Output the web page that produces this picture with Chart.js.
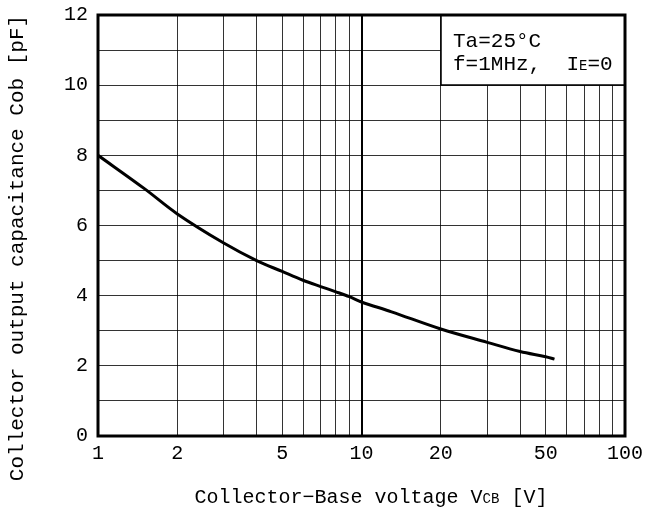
<!DOCTYPE html>
<html>
<head>
<meta charset="utf-8">
<script src="https://cdn.jsdelivr.net/npm/chart.js@4"></script>
<style>
  html, body { margin: 0; padding: 0; background: #fff; }
  #wrap { width: 651px; height: 511px; position: relative; }
</style>
</head>
<body>
<div id="wrap"><canvas id="cobChart"></canvas></div>
<script>
  // data
  const vcb = [1, 1.5, 2, 3, 4, 5, 6, 7, 8, 9, 10, 13, 20, 30, 40, 50, 54];
  const cob = [8.0, 7.05, 6.33, 5.5, 5.0, 4.69, 4.44, 4.26, 4.11, 3.97, 3.82, 3.54, 3.05, 2.67, 2.41, 2.26, 2.19];

  // grid / tick layout
  const xGridValues = [1, 2, 3, 4, 5, 6, 7, 8, 9, 10, 20, 30, 40, 50, 60, 70, 80, 90, 100];
  const xTickLabels = [1, 2, 5, 10, 20, 50, 100];
  const yTickLabels = [0, 2, 4, 6, 8, 10, 12];

  const FONT = "'Liberation Mono', 'DejaVu Sans Mono', monospace";

  // draws frame, note box and axis titles
  const decorPlugin = {
    id: 'decor',
    afterDraw(chart){
      const {ctx, chartArea: a, scales} = chart;
      const xs = scales.x, ys = scales.y;
      ctx.save();

      // thicker line at 10 V
      const x10 = Math.round(xs.getPixelForValue(10));
      ctx.strokeStyle = '#000';
      ctx.lineWidth = 2;
      ctx.beginPath();
      ctx.moveTo(x10, a.top);
      ctx.lineTo(x10, a.bottom);
      ctx.stroke();

      // note box (20..100 V, 10..12 pF)
      const bx = Math.round(xs.getPixelForValue(20));
      const by = Math.round(ys.getPixelForValue(10));
      ctx.fillStyle = '#fff';
      ctx.fillRect(bx, a.top, a.right - bx, by - a.top);
      ctx.lineWidth = 1.5;
      ctx.strokeRect(bx, a.top, a.right - bx, by - a.top);

      ctx.fillStyle = '#000';
      ctx.textBaseline = 'alphabetic';
      ctx.textAlign = 'left';
      ctx.font = `21px ${FONT}`;
      ctx.fillText('Ta=25°C', bx + 12, a.top + 32);
      let tx = bx + 12;
      const ty = a.top + 55;
      const p1 = 'f=1MHz,  I';
      ctx.fillText(p1, tx, ty);
      tx += ctx.measureText(p1).width;
      ctx.font = `14px ${FONT}`;
      ctx.fillText('E', tx, ty);
      tx += ctx.measureText('E').width;
      ctx.font = `21px ${FONT}`;
      ctx.fillText('=0', tx, ty);

      // frame
      ctx.lineWidth = 3;
      ctx.strokeRect(a.left, a.top, a.right - a.left, a.bottom - a.top);

      // x title with small "CB"
      const s1 = 'Collector−Base voltage V', s2 = 'CB', s3 = ' [V]';
      ctx.font = `20px ${FONT}`;
      const w1 = ctx.measureText(s1).width, w3 = ctx.measureText(s3).width;
      ctx.font = `14px ${FONT}`;
      const w2 = ctx.measureText(s2).width;
      let x = 371 - (w1 + w2 + w3) / 2;
      const y = 503;
      ctx.font = `20px ${FONT}`;
      ctx.fillText(s1, x, y); x += w1;
      ctx.font = `14px ${FONT}`;
      ctx.fillText(s2, x, y); x += w2;
      ctx.font = `20px ${FONT}`;
      ctx.fillText(s3, x, y);

      // y title
      ctx.translate(23, 248);
      ctx.rotate(-Math.PI / 2);
      ctx.textAlign = 'center';
      ctx.font = `21px ${FONT}`;
      ctx.fillText('Collector output capacitance Cob [pF]', 0, 0);
      ctx.restore();
    }
  };

  new Chart(document.getElementById('cobChart'), {
    type: 'line',
    data: {
      datasets: [{
        data: vcb.map((v, i) => ({x: v, y: cob[i]})),
        borderColor: '#000',
        borderWidth: 3,
        pointRadius: 0,
        tension: 0.35,
        fill: false
      }]
    },
    options: {
      responsive: true,
      maintainAspectRatio: false,
      animation: false,
      devicePixelRatio: 1,
      layout: { padding: { top: 15, right: 26, left: 0, bottom: 0 } },
      plugins: { legend: { display: false }, tooltip: { enabled: false } },
      scales: {
        x: {
          type: 'logarithmic',
          min: 1, max: 100,
          afterBuildTicks: (s) => { s.ticks = xGridValues.map(v => ({value: v})); },
          afterFit: (s) => { s.height = 75; s.paddingRight = 0; s.paddingLeft = 0; },
          border: { display: false },
          grid: { color: 'rgba(0,0,0,0.8)', lineWidth: 1, drawTicks: false },
          ticks: {
            autoSkip: false, maxRotation: 0, padding: 6, color: '#000',
            font: { family: FONT, size: 20 },
            callback: (v) => xTickLabels.includes(v) ? String(v) : ''
          }
        },
        y: {
          min: 0, max: 12,
          afterFit: (s) => { s.width = 98; s.paddingTop = 0; s.paddingBottom = 0; },
          border: { display: false },
          grid: { color: 'rgba(0,0,0,0.8)', lineWidth: 1, drawTicks: false },
          ticks: {
            stepSize: 1, padding: 10, color: '#000',
            font: { family: FONT, size: 20 },
            callback: (v) => yTickLabels.includes(v) ? String(v) : ''
          }
        }
      }
    },
    plugins: [decorPlugin]
  });
</script>
</body>
</html>
